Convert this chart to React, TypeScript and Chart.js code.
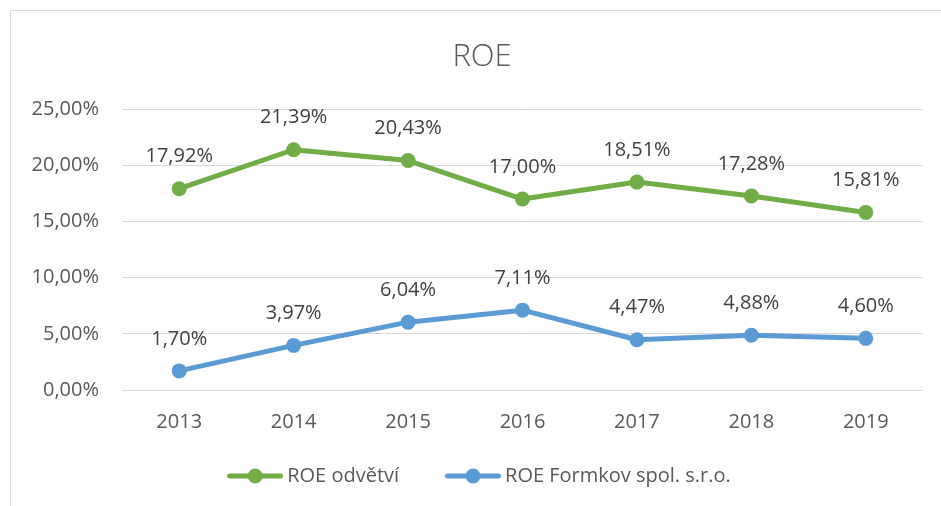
import React, { useEffect, useRef } from "react";
import { Chart, registerables } from "chart.js";

Chart.register(...registerables);

const categories = ["2013", "2014", "2015", "2016", "2017", "2018", "2019"];
const roeOdvetvi = [17.92, 21.39, 20.43, 17.0, 18.51, 17.28, 15.81];
const roeFormkov = [1.7, 3.97, 6.04, 7.11, 4.47, 4.88, 4.6];
const seriesNames = ["ROE odvětví", "ROE Formkov spol. s.r.o."];
const chartTitle = "ROE";
const yMin = 0;
const yMax = 25;
const yStep = 5;

const GREEN = "#70AD47";
const BLUE = "#5B9BD5";
const FONT = '"Open Sans", "Noto Sans", sans-serif';

const fmt = (v: number) => v.toFixed(2).replace(".", ",") + "%";

function makeLegendIcon(color: string): HTMLCanvasElement {
  const c = document.createElement("canvas");
  c.width = 56;
  c.height = 16;
  const ctx = c.getContext("2d")!;
  ctx.strokeStyle = color;
  ctx.lineWidth = 5;
  ctx.lineCap = "round";
  ctx.beginPath();
  ctx.moveTo(2.5, 8);
  ctx.lineTo(53.5, 8);
  ctx.stroke();
  ctx.fillStyle = color;
  ctx.beginPath();
  ctx.arc(28, 8, 7.5, 0, Math.PI * 2);
  ctx.fill();
  return c;
}

const dataLabelPlugin = {
  id: "valueLabels",
  afterDatasetsDraw(chart: any) {
    const ctx = chart.ctx;
    ctx.save();
    ctx.font = `20px ${FONT}`;
    ctx.fillStyle = "#404040";
    ctx.textAlign = "center";
    ctx.textBaseline = "middle";
    chart.data.datasets.forEach((ds: any, i: number) => {
      const meta = chart.getDatasetMeta(i);
      meta.data.forEach((pt: any, j: number) => {
        ctx.fillText(fmt(ds.data[j]), pt.x, pt.y - 32);
      });
    });
    ctx.restore();
  },
};

export default function App() {
  const ref = useRef<HTMLCanvasElement>(null);

  useEffect(() => {
    if (!ref.current) return;
    const icons = [makeLegendIcon(GREEN), makeLegendIcon(BLUE)];
    const chart = new Chart(ref.current, {
      type: "line",
      data: {
        labels: categories,
        datasets: [
          {
            label: seriesNames[0],
            data: roeOdvetvi,
            borderColor: GREEN,
            backgroundColor: GREEN,
            borderWidth: 5,
            pointRadius: 7.5,
            pointBorderWidth: 0,
            pointBackgroundColor: GREEN,
            borderCapStyle: "round",
            borderJoinStyle: "round",
            tension: 0,
            yAxisID: "y",
          },
          {
            label: seriesNames[1],
            data: roeFormkov,
            borderColor: BLUE,
            backgroundColor: BLUE,
            borderWidth: 5,
            pointRadius: 7.5,
            pointBorderWidth: 0,
            pointBackgroundColor: BLUE,
            borderCapStyle: "round",
            borderJoinStyle: "round",
            tension: 0,
            yAxisID: "y",
          },
        ],
      },
      options: {
        animation: false,
        responsive: false,
        maintainAspectRatio: false,
        layout: { padding: { left: 25, right: 2, top: 0, bottom: 10 } },
        plugins: {
          title: {
            display: true,
            text: chartTitle,
            color: "#595959",
            font: { family: FONT, size: 31, weight: "300" as any, lineHeight: 1.2 },
            padding: { top: 39, bottom: 33 },
          },
          legend: {
            display: true,
            position: "bottom",
            labels: {
              usePointStyle: true,
              pointStyleWidth: 44,
              boxHeight: 16,
              padding: 32,
              color: "#595959",
              font: { family: FONT, size: 20 },
              generateLabels(chart: any) {
                const items = Chart.defaults.plugins.legend.labels.generateLabels(chart);
                items.forEach((it: any, i: number) => {
                  it.pointStyle = icons[i];
                  if (i === 0) it.text = it.text + "\u2003";
                });
                return items;
              },
            },
          },
          tooltip: { enabled: false },
        },
        scales: {
          x: {
            offset: true,
            grid: { display: false, drawTicks: false },
            border: { display: false },
            ticks: {
              color: "#595959",
              font: { family: FONT, size: 20 },
              padding: 20,
              maxRotation: 0,
            },
            afterFit(scale: any) {
              scale.height = 44;
            },
          },
          y: {
            position: "left",
            min: yMin,
            max: yMax,
            grid: { color: "#D9D9D9", lineWidth: 1, drawTicks: false },
            border: { display: false },
            ticks: {
              stepSize: yStep,
              color: "#595959",
              font: { family: FONT, size: 20 },
              padding: 23,
              callback: (v: any) => fmt(Number(v)),
            },
            afterFit(scale: any) {
              scale.width = 97;
            },
          },
          yRight: {
            position: "right",
            display: true,
            grid: { display: false, drawTicks: false },
            border: { display: false },
            ticks: { display: false },
            afterFit(scale: any) {
              scale.width = 16;
            },
          },
        },
      },
      plugins: [dataLabelPlugin],
    });
    return () => chart.destroy();
  }, []);

  return (
    <div
      style={{
        position: "fixed",
        left: 0,
        top: 0,
        width: 941,
        height: 506,
        overflow: "hidden",
        background: "#fff",
      }}
    >
      <div
        style={{
          position: "absolute",
          left: 10,
          top: 10,
          width: 1000,
          height: 600,
          border: "1px solid #D9D9D9",
          boxSizing: "border-box",
        }}
      />
      <canvas
        ref={ref}
        width={941}
        height={506}
        style={{ position: "absolute", left: 0, top: 0, width: 941, height: 506 }}
      />
    </div>
  );
}
